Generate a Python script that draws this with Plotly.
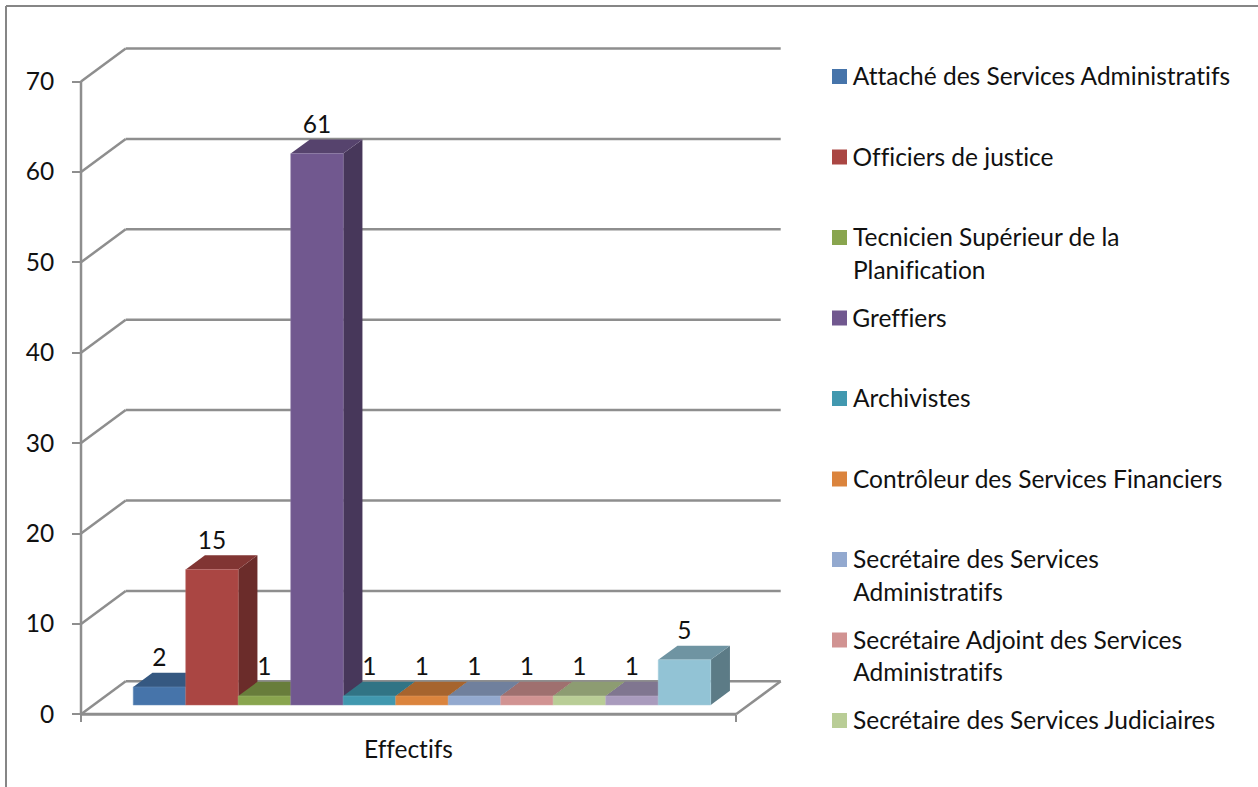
import plotly.graph_objects as go

# ---- data ----
categories = ["Attaché des Services Administratifs", "Officiers de justice",
              "Tecnicien Supérieur de la Planification", "Greffiers", "Archivistes",
              "Contrôleur des Services Financiers", "Secrétaire des Services Administratifs",
              "Secrétaire Adjoint des Services Administratifs",
              "Secrétaire des Services Judiciaires", "Catégorie 10", "Catégorie 11"]
values = [2, 15, 1, 61, 1, 1, 1, 1, 1, 1, 5]
colors = ["#4674AA", "#AA4643", "#89A54E", "#71588F", "#4198AF", "#DB843D",
          "#93A9CF", "#D19392", "#B9CD96", "#A99BBD", "#92C3D5"]
legend_lines = [["Attaché des Services Administratifs"], ["Officiers de justice"],
                ["Tecnicien Supérieur de la", "Planification"], ["Greffiers"], ["Archivistes"],
                ["Contrôleur des Services Financiers"], ["Secrétaire des Services", "Administratifs"],
                ["Secrétaire Adjoint des Services", "Administratifs"],
                ["Secrétaire des Services Judiciaires"]]
axis_ticks = [0, 10, 20, 30, 40, 50, 60, 70]
x_label = "Effectifs"

# ---- layout constants ----
W, H = 1258, 787
FONT = "Lato"
FS = 24.5
TXT = "#111111"
GRID = "#8E8E8E"
PX_X = 52.5      # pixels per bar width
PX_Y = 9.04      # pixels per value unit
X0_PX, Y0_PX = 120.7, 714.3   # pixel of x=0, y=0 on the front plane
DX, DY = 44.7 / PX_X, 33 / PX_Y     # full depth of the floor in axis units
D1, D2 = 0.28, 0.71                 # front and back of the bars within the depth
XMIN, XMAX = -0.756, 11.72
L, R, T, B = 70, 792, 40, 726
PW, PH = R - L, B - T
x_range = [(L - X0_PX) / PX_X, (R - X0_PX) / PX_X]
y_range = [(Y0_PX - B) / PX_Y, (Y0_PX - T) / PX_Y]


def shade(hex_col, k):
    r, g, b = (int(hex_col[i:i + 2], 16) for i in (1, 3, 5))
    return f"rgb({r * k:.0f},{g * k:.0f},{b * k:.0f})"


def tint(hex_col, k):
    r, g, b = (int(hex_col[i:i + 2], 16) for i in (1, 3, 5))
    return f"rgb({r + (255 - r) * k:.0f},{g + (255 - g) * k:.0f},{b + (255 - b) * k:.0f})"


def pt(x, v, d):
    return x + d * DX, v + d * DY


def poly(pts, color):
    xs, ys = zip(*(pts + pts[:1]))
    return go.Scatter(x=xs, y=ys, mode="lines", fill="toself", fillcolor=color,
                      line=dict(width=0, color=color), hoverinfo="skip", showlegend=False,
                      xaxis="x", yaxis="y")


fig = go.Figure()

# depth faces: left to right, so each bar covers the previous one's faces
for i, (v, c) in enumerate(zip(values, colors)):
    a, b = i, i + 1
    fig.add_trace(poly([pt(b, 0, D1), pt(b, v, D1), pt(b, v, D2), pt(b, 0, D2)], shade(c, 0.63)))
    fig.add_trace(poly([pt(a, v, D1), pt(b, v, D1), pt(b, v, D2), pt(a, v, D2)], shade(c, 0.76)))

# front faces, on the overlaid axes so they stay above all depth faces
for i, (name, v, c) in enumerate(zip(categories, values, colors)):
    cx, base = pt(i + 0.5, 0, D1)
    fig.add_trace(go.Bar(x=[cx], y=[v], base=[base], width=[1], name=name, marker_color=c,
                         marker_line=dict(width=0.5, color=tint(c, 0.2)),
                         xaxis="x2", yaxis="y2", showlegend=False))

# data labels
lx, ly = [], []
for i, v in enumerate(values):
    cx, top = pt(i + 0.5, v, D1)
    lx.append(cx)
    ly.append(top + 27 / PX_Y)
fig.add_trace(go.Scatter(x=lx, y=ly, mode="text", text=[str(v) for v in values],
                         textposition="middle center", textfont=dict(family=FONT, size=FS, color=TXT),
                         hoverinfo="skip", showlegend=False, xaxis="x2", yaxis="y2"))

# walls and floor
shapes = []


def seg(x0, y0, x1, y1, width=2.5):
    shapes.append(dict(type="line", xref="x", yref="y", x0=x0, y0=y0, x1=x1, y1=y1,
                       layer="below", line=dict(color=GRID, width=width)))


for t in axis_ticks:
    seg(XMIN, t, XMIN + DX, t + DY)
    seg(XMIN + DX, t + DY, XMAX + DX, t + DY)
seg(XMIN, 0, XMAX, 0, 3)
seg(XMAX, 0, XMAX + DX, DY)
seg(XMIN, 0, XMIN, axis_ticks[-1])


def px(x):
    return (x - L) / PW


def py(y):
    return (B - y) / PH


# outer frame of the chart, cropped by the picture on the right and bottom
for x0, y0, x1, y1 in [(6, 6, W, 6), (6, 6, 6, H)]:
    shapes.append(dict(type="line", xref="paper", yref="paper", x0=px(x0), y0=py(y0),
                       x1=px(x1), y1=py(y1), line=dict(color="#868686", width=2)))

# legend
annotations = []
LEG_TOP, LEG_STEP, LINE = 76.5, 80.5, 32.5
for i, (lines, c) in enumerate(zip(legend_lines, colors)):
    yc = LEG_TOP + i * LEG_STEP
    shapes.append(dict(type="rect", xref="paper", yref="paper", x0=px(832), x1=px(847),
                       y0=py(yc - 7.5), y1=py(yc + 7.5), fillcolor=c, line=dict(width=0)))
    for j, line in enumerate(lines):
        annotations.append(dict(xref="paper", yref="paper", x=px(852), y=py(yc - 1 + j * LINE),
                                xanchor="left", yanchor="middle", text=line, showarrow=False,
                                borderpad=0, font=dict(family=FONT, size=FS, color=TXT)))

fig.update_layout(
    width=W, height=H, autosize=False, barmode="overlay", showlegend=False,
    margin=dict(l=L, r=W - R, t=T, b=H - B, pad=0),
    paper_bgcolor="white", plot_bgcolor="white",
    font=dict(family=FONT, size=FS, color=TXT),
    shapes=shapes, annotations=annotations,
    xaxis=dict(range=x_range, anchor="free", position=py(Y0_PX), showgrid=False, zeroline=False,
               tickmode="array", tickvals=[XMIN, XMAX], ticks="outside", ticklen=7, tickwidth=2,
               tickcolor=GRID, showticklabels=False),
    yaxis=dict(range=y_range, anchor="free", position=px(81), showgrid=False, zeroline=False,
               tickmode="array", tickvals=axis_ticks, ticks="outside", ticklen=9, tickwidth=2,
               tickcolor=GRID, ticklabelstandoff=13, tickfont=dict(family=FONT, size=FS, color=TXT)),
    xaxis2=dict(range=x_range, overlaying="x", anchor="free", position=py(Y0_PX), showgrid=False,
                zeroline=False, tickmode="array", tickvals=[(XMIN + XMAX) / 2], ticktext=[x_label],
                ticks="", ticklabelstandoff=18, tickfont=dict(family=FONT, size=FS, color=TXT)),
    yaxis2=dict(range=y_range, overlaying="y", visible=False),
)

post = ("document.body.style.margin='0';document.body.style.overflow='hidden';"
        "var s=document.createElement('style');"
        "s.textContent='text{font-variant-ligatures:none !important;}';"
        "document.head.appendChild(s);")
fig.write_html("out.html", config=dict(displayModeBar=False), post_script=post)
